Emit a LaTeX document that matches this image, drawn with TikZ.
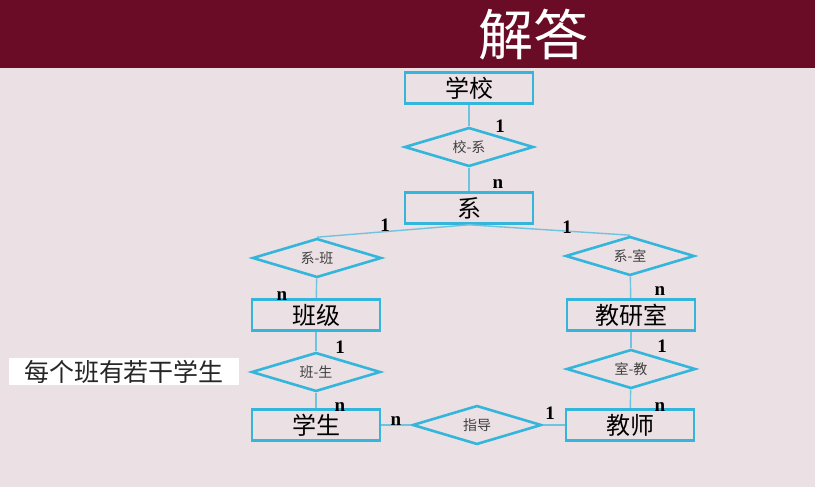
\documentclass[tikz,border=0pt]{standalone}
\usepackage{fontspec}
\setmainfont{Liberation Serif}
\newfontfamily\cjk{Noto Sans CJK SC}
\usepackage{xcolor}
\usetikzlibrary{shapes.geometric}
\definecolor{banner}{RGB}{106, 12, 38}
\definecolor{paper}{RGB}{235, 224, 227}
\definecolor{erblue}{RGB}{52, 182, 220}
\definecolor{linkblue}{RGB}{110, 196, 222}

\begin{document}
\begin{tikzpicture}[
    x=1pt, y=-1pt,
    entity/.style={draw=erblue, line width=2.6pt, rectangle, minimum width=128pt, minimum height=31pt, inner sep=0pt, font=\cjk\fontsize{24}{24}\selectfont},
    rel/.style={draw=erblue, line width=2.6pt, diamond, aspect=3.3, minimum width=129pt, minimum height=39pt, inner sep=0pt, font=\cjk\fontsize{14}{14}\selectfont, text=black!75},
    link/.style={draw=linkblue, line width=1.4pt},
    card/.style={font=\bfseries\fontsize{19}{19}\selectfont, inner sep=0pt}
]
    \useasboundingbox (0,0) rectangle (815,487);
    \fill[paper] (0,0) rectangle (815,487);
    \fill[banner] (0,0) rectangle (815,68);
    \node[text=white, font=\cjk\fontsize{55}{55}\selectfont] (title) at (533,35) {解答};

    % entities
    \node[entity] (school) at (469,88) {学校};
    \node[entity] (dept) at (469,208) {系};
    \node[entity] (cls) at (316,315) {班级};
    \node[entity] (office) at (631,315) {教研室};
    \node[entity] (stu) at (316,425) {学生};
    \node[entity] (teacher) at (630,425) {教师};

    % relationships
    \node[rel] (sd) at (469,147) {校-系};
    \node[rel] (dc) at (317,258) {系-班};
    \node[rel] (do) at (630,256) {系-室};
    \node[rel] (cs) at (316,372) {班-生};
    \node[rel] (ot) at (631,369) {室-教};
    \node[rel] (guide) at (477,425) {指导};

    \draw[link] (school) -- (sd);
    \draw[link] (sd) -- (dept);
    \draw[link] (dept.south) -- (dc.north);
    \draw[link] (dept.south) -- (do.north);
    \draw[link] (dc) -- (cls);
    \draw[link] (do) -- (office);
    \draw[link] (cls) -- (cs);
    \draw[link] (cs) -- (stu);
    \draw[link] (office) -- (ot);
    \draw[link] (ot) -- (teacher);
    \draw[link] (stu) -- (guide);
    \draw[link] (guide) -- (teacher);

    % cardinalities
    \node[card] (c1) at (500,126) {1};
    \node[card] (c2) at (498,184) {n};
    \node[card] (c3) at (385,225) {1};
    \node[card] (c4) at (567,227) {1};
    \node[card] (c5) at (282,296) {n};
    \node[card] (c6) at (660,291) {n};
    \node[card] (c7) at (340,347) {1};
    \node[card] (c8) at (662,346) {1};
    \node[card] (c9) at (340,407) {n};
    \node[card] (c10) at (660,407) {n};
    \node[card] (c11) at (396,421) {n};
    \node[card] (c12) at (550,413) {1};

    % note
    \node[fill=white, minimum width=230pt, minimum height=27pt, inner sep=0pt, font=\cjk\fontsize{25}{25}\selectfont, text=black!85] (note) at (124,371.5) {每个班有若干学生};
\end{tikzpicture}
\end{document}
